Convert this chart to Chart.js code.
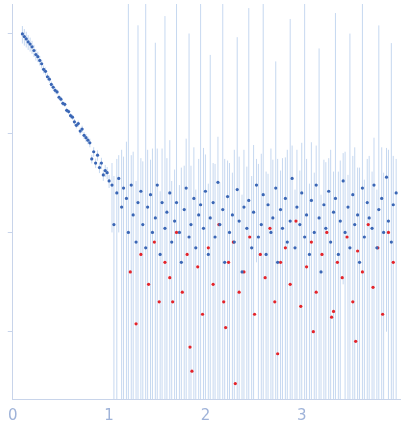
<!DOCTYPE html>
<html><head><meta charset="utf-8">
<script src="https://cdn.jsdelivr.net/npm/chart.js@4/dist/chart.umd.min.js"></script>
<style>html,body{margin:0;padding:0;background:#fff}#w{width:404px;height:437px}</style>
</head><body><div id="w"><canvas id="c"></canvas></div>
<script>
const blueX = [0.10,0.12,0.14,0.16,0.18,0.20,0.22,0.24,0.26,0.28,0.30,0.32,0.34,0.36,0.38,0.40,0.42,0.44,0.46,0.48,0.50,0.52,0.54,0.56,0.58,0.60,0.62,0.64,0.66,0.68,0.70,0.72,0.74,0.76,0.78,0.80,0.82,0.84,0.86,0.88,0.90,0.92,0.94,0.96,0.98,1.00,
1.03,1.05,1.08,1.10,1.13,1.15,1.18,1.20,1.23,1.25,1.28,1.30,1.33,1.35,1.38,1.40,1.43,1.45,1.48,1.50,1.53,1.55,1.58,1.60,1.63,1.65,1.68,1.70,1.73,1.75,1.78,1.80,1.83,1.85,1.88,1.90,1.93,1.95,1.98,2.00,2.03,2.05,2.08,2.10,2.13,2.15,2.18,2.20,2.23,2.25,2.28,2.30,2.33,2.35,2.38,2.40,2.43,2.45,2.48,2.50,2.53,2.55,2.58,2.60,2.63,2.65,2.68,2.70,2.73,2.75,2.78,2.80,2.83,2.85,2.88,2.90,2.93,2.95,2.98,3.00,3.03,3.05,3.08,3.10,3.13,3.15,3.18,3.20,3.23,3.25,3.28,3.30,3.33,3.35,3.38,3.40,3.43,3.45,3.48,3.50,3.53,3.55,3.58,3.60,3.63,3.65,3.68,3.70,3.73,3.75,3.78,3.80,3.83,3.85,3.88,3.90,3.93,3.95,3.98];
const blueY = [10.0,9.4,8.9,8.3,7.9,7.4,6.8,6.2,5.9,5.4,5.0,4.4,4.2,3.7,3.5,3.1,2.9,2.7,2.6,2.3,2.2,2.0,1.95,1.7,1.65,1.5,1.45,1.3,1.2,1.25,1.05,1.1,0.95,0.9,0.85,0.8,0.55,0.65,0.5,0.6,0.45,0.5,0.38,0.42,0.4,0.33,
0.3,0.12,0.25,0.35,0.18,0.28,0.22,0.1,0.3,0.15,0.08,0.2,0.26,0.12,0.07,0.18,0.24,0.1,0.14,0.3,0.06,0.2,0.11,0.16,0.25,0.08,0.13,0.2,0.1,0.05,0.17,0.28,0.09,0.12,0.22,0.07,0.15,0.19,0.11,0.26,0.06,0.14,0.2,0.09,0.32,0.12,0.17,0.05,0.23,0.1,0.15,0.08,0.27,0.13,0.04,0.18,0.11,0.21,0.07,0.16,0.3,0.09,0.12,0.24,0.06,0.19,0.1,0.14,0.28,0.05,0.17,0.11,0.22,0.08,0.13,0.35,0.07,0.18,0.12,0.25,0.09,0.15,0.06,0.21,0.1,0.3,0.14,0.04,0.19,0.11,0.26,0.08,0.16,0.22,0.06,0.13,0.33,0.1,0.18,0.07,0.24,0.12,0.15,0.05,0.28,0.09,0.2,0.14,0.11,0.3,0.07,0.17,0.22,0.1,0.36,0.13,0.08,0.19,0.25,0.12];
const blueErr = [0.2,0.19,0.18,0.17,0.16,0.15,0.14,0.13,0.12,0.11,0.1,0.09,0.09,0.08,0.08,0.07,0.07,0.07,0.06,0.06,0.06,0.06,0.06,0.06,0.06,0.06,0.06,0.07,0.07,0.07,0.08,0.08,0.08,0.09,0.09,0.1,0.1,0.11,0.11,0.12,0.12,0.13,0.13,0.14,0.14,0.15,
0.2,0.25,0.3,0.25,0.5,0.3,0.6,25,0.3,0.5,0.25,12,0.3,0.4,20,0.5,0.3,0.6,8,0.4,0.2,0.5,15,0.4,0.6,0.25,0.3,30,0.2,0.4,0.3,0.6,10,0.35,0.5,0.2,0.4,20,0.6,0.35,0.25,6,0.3,0.4,0.6,0.2,25,0.5,0.3,0.4,0.25,0.6,9,0.45,0.2,0.5,0.35,18,0.3,0.6,0.25,0.4,0.5,30,0.35,0.2,0.6,0.4,5,0.5,0.25,0.45,0.35,0.6,14,0.4,0.2,0.5,0.3,0.55,22,0.4,0.25,0.6,0.3,0.45,7,0.2,0.35,0.4,0.3,0.6,0.25,16,0.35,0.4,0.3,0.55,0.2,10,0.35,0.6,0.3,0.4,28,0.25,0.35,0.45,0.3,0.6,0.2,12,0.5,0.3,0.35,0.55,8,0.4,0.3,0.5,0.35,0.6];
const redX = [1.22,1.28,1.33,1.41,1.47,1.52,1.58,1.63,1.70,1.76,1.81,1.86,1.92,1.97,2.03,2.08,2.14,2.19,2.24,2.29,2.35,2.40,2.46,2.51,2.57,2.62,2.67,2.72,2.78,2.83,2.88,2.94,2.99,3.05,3.10,3.15,3.21,3.26,3.31,3.37,3.42,3.47,3.53,3.58,3.63,3.69,3.74,3.79,3.84,3.90,3.95,1.84,2.31,2.75,3.12,3.56,1.66,2.21,3.33];
const redY = [0.04,0.012,0.06,0.03,0.08,0.02,0.05,0.035,0.1,0.025,0.06,0.004,0.045,0.015,0.07,0.03,0.12,0.02,0.05,0.08,0.025,0.04,0.09,0.015,0.06,0.035,0.11,0.02,0.05,0.07,0.03,0.13,0.018,0.045,0.08,0.025,0.06,0.1,0.014,0.05,0.035,0.09,0.02,0.065,0.04,0.12,0.028,0.07,0.015,0.1,0.05,0.007,0.003,0.006,0.01,0.008,0.02,0.011,0.016];
const xTicks = [0,1,2,3];
const yTicks = [0.01,0.1,1,10];

const errPlugin = {
  id:'err',
  beforeDatasetsDraw(ch){
    const {ctx, scales:{x,y}, chartArea:a} = ch;
    ctx.save(); ctx.beginPath(); ctx.rect(a.left,a.top,a.right-a.left,a.bottom-a.top); ctx.clip();
    ctx.strokeStyle='rgba(160,190,230,0.6)'; ctx.lineWidth=1;
    blueX.forEach((v,i)=>{
      const e = blueErr[i]*(blueX[i]>1.02?1:blueY[i]);
      const lo = blueY[i]-e, hi = blueY[i]+e;
      const px = x.getPixelForValue(v);
      const pl = lo>0 ? y.getPixelForValue(lo) : a.bottom;
      ctx.beginPath(); ctx.moveTo(px, y.getPixelForValue(hi)); ctx.lineTo(px, pl); ctx.stroke();
    });
    ctx.restore();
  }
};

new Chart(document.getElementById('c'), {
  type:'scatter',
  data:{datasets:[
    {data:blueX.map((v,i)=>({x:v,y:blueY[i]})), backgroundColor:'#3a66b5', borderWidth:0, pointRadius:1.6},
    {data:redX.map((v,i)=>({x:v,y:redY[i]})), backgroundColor:'#e5242a', borderWidth:0, pointRadius:1.6}
  ]},
  options:{
    responsive:true, maintainAspectRatio:false, animation:false,
    layout:{padding:{right:1, top:0, left:-7, bottom:4}},
    plugins:{legend:{display:false}, tooltip:{enabled:false}},
    scales:{
      x:{type:'linear', min:0, max:4.02,
        afterBuildTicks:s=>{s.ticks=xTicks.map(v=>({value:v}));},
        grid:{display:false, drawTicks:false},
        border:{color:'#c8d4ea'},
        ticks:{color:'#9fb3d9', font:{size:15, family:'DejaVu Sans'}, padding:8}},
      y:{type:'logarithmic', min:0.0021, max:20,
        afterBuildTicks:s=>{s.ticks=yTicks.map(v=>({value:v}));},
        afterFit:s=>{s.width=5;},
        grid:{drawOnChartArea:false, tickLength:5, color:'#c8d4ea'},
        border:{color:'#c8d4ea'},
        ticks:{callback:()=>'', padding:0, font:{size:1}}}
    }
  },
  plugins:[errPlugin]
});
</script></body></html>
